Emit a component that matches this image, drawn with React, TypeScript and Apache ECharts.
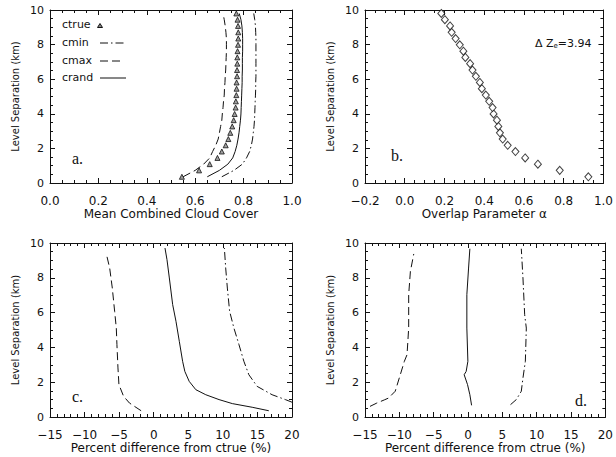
import React, { useEffect, useRef } from "react";
import * as echarts from "echarts";

// ---- Panel a / b : values at the model level separations (km)
const levels = [0.36, 0.73, 1.09, 1.45, 1.82, 2.18, 2.54, 2.9, 3.27, 3.63, 3.99, 4.36, 4.72, 5.08, 5.45, 5.81, 6.17, 6.53, 6.9, 7.26, 7.62, 7.99, 8.35, 8.71, 9.08, 9.44, 9.8];
const ctrue = [0.545, 0.616, 0.66, 0.692, 0.71, 0.726, 0.737, 0.745, 0.753, 0.759, 0.763, 0.767, 0.768, 0.77, 0.771, 0.771, 0.773, 0.773, 0.774, 0.774, 0.775, 0.777, 0.778, 0.778, 0.777, 0.775, 0.77];
const cmin = [0.71, 0.76, 0.795, 0.812, 0.825, 0.832, 0.837, 0.84, 0.843, 0.845, 0.846, 0.847, 0.848, 0.849, 0.85, 0.85, 0.851, 0.851, 0.851, 0.851, 0.851, 0.851, 0.851, 0.85, 0.849, 0.846, 0.842];
const cmax = [0.55, 0.6, 0.635, 0.66, 0.672, 0.685, 0.695, 0.7, 0.705, 0.71, 0.712, 0.715, 0.717, 0.72, 0.721, 0.723, 0.724, 0.726, 0.727, 0.728, 0.729, 0.729, 0.729, 0.727, 0.724, 0.72, 0.715];
const crand = [0.65, 0.7, 0.735, 0.755, 0.765, 0.772, 0.777, 0.781, 0.784, 0.787, 0.789, 0.79, 0.791, 0.792, 0.793, 0.794, 0.794, 0.795, 0.795, 0.795, 0.796, 0.796, 0.796, 0.795, 0.793, 0.789, 0.782];
const alpha = [0.924, 0.78, 0.67, 0.606, 0.557, 0.518, 0.493, 0.479, 0.471, 0.464, 0.447, 0.442, 0.425, 0.408, 0.388, 0.378, 0.358, 0.341, 0.329, 0.305, 0.295, 0.277, 0.256, 0.236, 0.228, 0.202, 0.184];

// ---- Panel c : percent difference from ctrue
const cRandX = [16.64, 14.24, 11.37, 9.45, 7.53, 6.09, 5.13, 4.5, 4.18, 3.7, 3.22, 2.74, 2.26, 1.92, 1.63];
const cRandY = [0.36, 0.56, 0.77, 1.0, 1.28, 1.57, 2.05, 2.62, 3.2, 4.35, 5.5, 6.46, 7.99, 9.04, 9.71];
const cMaxX = [-1.82, -3.5, -4.36, -5.03, -5.17, -5.32, -5.41, -5.65, -5.99, -6.37, -6.85];
const cMaxY = [0.36, 0.8, 1.19, 1.86, 2.82, 4.16, 5.11, 6.07, 7.41, 8.56, 9.37];
const cMinX = [20, 19.04, 17.12, 14.96, 13.76, 13.04, 12.33, 11.6, 10.98, 10.65, 10.41, 10.22];
const cMinY = [0.85, 1.0, 1.28, 1.76, 2.43, 3.2, 4.16, 5.11, 6.07, 7.41, 8.56, 9.71];

// ---- Panel d : percent difference from ctrue
const dRandX = [0.52, 0.27, -0.07, -0.56, -0.27, -0.02, -0.17, -0.17, 0.08, 0.27];
const dRandY = [0.67, 1.28, 1.86, 2.43, 2.62, 3.2, 5.11, 7.03, 8.56, 9.67];
const dMaxX = [-14.27, -13.29, -12.2, -11.57, -10.6, -9.86, -9.27, -8.88, -8.64, -8.64, -8.39, -7.9];
const dMaxY = [0.61, 0.8, 0.98, 1.09, 1.48, 2.43, 3.2, 3.58, 5.11, 7.03, 8.37, 9.37];
const dMinX = [6.19, 7.03, 7.76, 8.0, 8.35, 8.49, 8.25, 8.0, 7.76];
const dMinY = [0.71, 1.0, 1.48, 2.24, 3.2, 5.11, 5.88, 7.99, 9.67];

const xTitles = ["Mean Combined Cloud Cover", "Overlap Parameter \u03b1", "Percent difference from ctrue (%)", "Percent difference from ctrue (%)"];
const yTitle = "Level Separation (km)";
const xRanges = [[0, 1, 0.2, 4], [-0.2, 1, 0.2, 4], [-15, 20, 5, 5], [-15, 20, 5, 5]];
const panelLabels = ["a.", "b.", "c.", "d."];

const FONT = "DejaVu Sans";
const INK = "#111";
const DASH = [8, 4];
const DASHDOT = [8, 3, 1.5, 3];

const fmt1 = (v: number) => v.toFixed(1).replace("-", "\u2212");
const fmt0 = (v: number) => String(Math.round(v)).replace("-", "\u2212");
const zip = (xs: number[], ys: number[]) => xs.map((x, i) => [x, ys[i]]);

export default function App() {
  const ref = useRef<HTMLDivElement>(null);
  useEffect(() => {
    if (!ref.current) return;
    const chart = echarts.init(ref.current, null, { renderer: "svg" });

    const grids = [
      { left: 50, top: 10, width: 242, height: 173 },
      { left: 365, top: 10, width: 241, height: 173 },
      { left: 50, top: 243, width: 242, height: 174 },
      { left: 365, top: 243, width: 241, height: 174 },
    ];

    const baseAxis = (split: number) => ({
      axisLine: { show: true, onZero: false, lineStyle: { color: INK, width: 1 } },
      axisTick: { show: true, inside: true, length: 5, lineStyle: { color: INK } },
      minorTick: { show: true, splitNumber: split, length: 3, lineStyle: { color: INK } },
      splitLine: { show: false },
      minorSplitLine: { show: false },
    });

    const xAxes: any[] = [];
    const yAxes: any[] = [];
    for (let i = 0; i < 4; i++) {
      const [mn, mx, iv, sp] = xRanges[i];
      const f = iv < 1 ? fmt1 : fmt0;
      xAxes.push({
        type: "value", gridIndex: i, min: mn, max: mx, interval: iv, position: "bottom",
        ...baseAxis(sp),
        axisLabel: { show: true, margin: 12, fontFamily: FONT, fontSize: 12, color: INK, formatter: f },
        name: xTitles[i], nameLocation: "middle", nameGap: 25,
        nameTextStyle: { fontFamily: FONT, fontSize: 12, color: INK },
      });
      yAxes.push({
        type: "value", gridIndex: i, min: 0, max: 10, interval: 2, position: "left",
        ...baseAxis(4),
        axisLabel: { show: true, margin: 6, fontFamily: FONT, fontSize: 11, color: INK, formatter: fmt0 },
        name: yTitle, nameLocation: "middle", nameGap: 30, nameRotate: 90,
        nameTextStyle: { fontFamily: FONT, fontSize: 10, color: INK },
      });
    }
    for (let i = 0; i < 4; i++) {
      const [mn, mx, iv, sp] = xRanges[i];
      xAxes.push({
        type: "value", gridIndex: i, min: mn, max: mx, interval: iv, position: "top",
        ...baseAxis(sp), axisLabel: { show: false },
      });
      yAxes.push({
        type: "value", gridIndex: i, min: 0, max: 10, interval: 2, position: "right",
        ...baseAxis(4), axisLabel: { show: false },
      });
    }

    const line = (xi: number, data: number[][], dash: any) => ({
      type: "line", xAxisIndex: xi, yAxisIndex: xi, data, showSymbol: false, symbol: "none",
      silent: true, clip: true,
      lineStyle: { color: INK, width: 1, type: dash },
    });

    const series: any[] = [
      line(0, zip(cmin, levels), DASHDOT),
      line(0, zip(cmax, levels), DASH),
      line(0, zip(crand, levels), "solid"),
      {
        type: "scatter", xAxisIndex: 0, yAxisIndex: 0, data: zip(ctrue, levels),
        symbol: "triangle", symbolSize: 5, silent: true,
        itemStyle: { color: "#888", borderColor: INK, borderWidth: 1 },
      },
      {
        type: "scatter", xAxisIndex: 1, yAxisIndex: 1, data: zip(alpha, levels),
        symbol: "diamond", symbolSize: [7, 8], silent: true,
        itemStyle: { color: "#fff", borderColor: INK, borderWidth: 1 },
      },
      line(2, zip(cMinX, cMinY), DASHDOT),
      line(2, zip(cMaxX, cMaxY), DASH),
      line(2, zip(cRandX, cRandY), "solid"),
      line(3, zip(dMinX, dMinY), DASHDOT),
      line(3, zip(dMaxX, dMaxY), DASH),
      line(3, zip(dRandX, dRandY), "solid"),
    ];

    const labelPos = [[72, 166], [391, 163], [72, 404], [575, 408]];
    const graphic: any[] = panelLabels.map((t, i) => ({
      type: "text", x: labelPos[i][0], y: labelPos[i][1],
      style: { text: t, font: "16px 'Liberation Serif', 'Times New Roman', serif", fill: INK, verticalAlign: "bottom" },
    }));
    // legend in panel a
    const legNames = ["ctrue", "cmin", "cmax", "crand"];
    const legY = [24, 42, 60, 77];
    legNames.forEach((n, i) => {
      graphic.push({
        type: "text", x: 62, y: legY[i],
        style: { text: n, font: `11px '${FONT}'`, fill: INK, verticalAlign: "middle" },
      });
    });
    graphic.push({
      type: "polygon", shape: { points: [[100, 23.5], [102.5, 27.5], [97.5, 27.5]] },
      style: { fill: "#888", stroke: INK, lineWidth: 1 },
    });
    graphic.push({ type: "line", shape: { x1: 100, y1: 43, x2: 126, y2: 43 }, style: { stroke: INK, lineWidth: 1, lineDash: DASHDOT } });
    graphic.push({ type: "line", shape: { x1: 100, y1: 61, x2: 124, y2: 61 }, style: { stroke: INK, lineWidth: 1, lineDash: DASH } });
    graphic.push({ type: "line", shape: { x1: 100, y1: 78, x2: 126, y2: 78 }, style: { stroke: INK, lineWidth: 1 } });
    // Delta Z_e annotation in panel b
    graphic.push({
      type: "text", x: 535, y: 43,
      style: {
        text: "{a|\u0394 Z}{s|e}{a|=3.94}",
        verticalAlign: "middle",
        rich: {
          a: { fontFamily: FONT, fontSize: 11, fill: INK, color: INK },
          s: { fontFamily: FONT, fontSize: 7, fill: INK, color: INK, padding: [6, 0, 0, 0] },
        },
      },
    });

    chart.setOption({
      animation: false,
      backgroundColor: "#fff",
      grid: grids,
      xAxis: xAxes,
      yAxis: yAxes,
      series,
      graphic,
    });
    return () => chart.dispose();
  }, []);
  return <div ref={ref} style={{ position: "fixed", left: 0, top: 0, width: 616, height: 457 }} />;
}
